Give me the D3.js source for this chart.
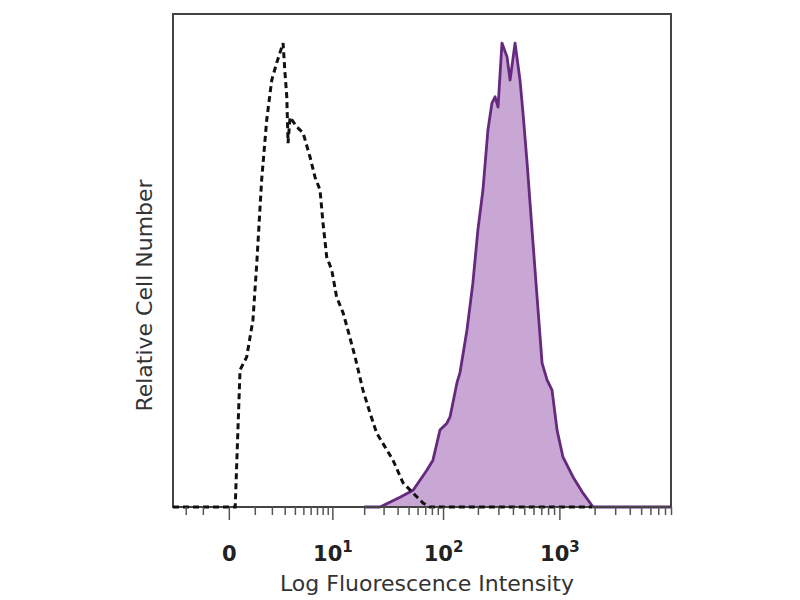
<!DOCTYPE html>
<html>
<head>
<meta charset="utf-8">
<script src="https://cdn.jsdelivr.net/npm/d3@7"></script>
<style>
  body { margin: 0; background: #fff; }
  svg { display: block; }
</style>
</head>
<body>
<svg id="chart" width="800" height="600"></svg>
<script>
// isotype control (dashed)
const controlX = [-3, 0.2, 0.37, 0.63, 0.91, 1.1, 1.36, 1.66, 1.99, 2.35, 2.86, 3.03, 3.19, 3.31, 3.5,
  4.21, 4.96, 5.91, 6.68, 7.52, 8.07, 8.79, 9.86, 11, 12.7, 14.1, 16.5, 19.5, 22.6, 26, 30.9,
  36.4, 44.7, 67, 77, 1900]
const controlY = [0, 0, 27.8, 30.4, 37.9, 49.5, 66.3, 78.5, 86.6, 90.1, 94.1, 88, 83.2, 73.8, 79.1,
  77.1, 75.9, 71, 66.9, 64.3, 57.6, 50.7, 48.1, 42.6, 39.4, 35.9, 30.4, 23.7, 19.1, 15, 12.2,
  9.5, 4.9, 0.8, 0, 0]

// stained sample (filled purple)
const stainX = [20, 27.9, 42, 54.8, 72.5, 81.7, 94, 108, 115, 132, 140, 161, 181, 200, 221, 244,
  264, 281, 298, 322, 356, 378, 417, 460, 488, 529, 583, 644, 711, 784, 865, 955, 1074, 1308,
  1593, 1940, 9000]
const stainY = [0, 0, 2, 3.4, 7.5, 9.5, 15.6, 17, 18.3, 25.2, 27.2, 35.9, 45.4, 56.2, 64.3, 76.5,
  81.9, 83.2, 81.1, 94.1, 91.3, 86.6, 94.1, 86.6, 79.9, 69.8, 56.2, 42.6, 29.2, 25.8, 23.7, 15.6,
  10.1, 6.1, 2.8, 0, 0]

const majorTicks = [0, 10, 100, 1000]
const majorLabels = ["0", "10|1", "10|2", "10|3"]
const minorTicks = [-2, -1, 1, 2, 3, 4, 5, 6, 7, 8, 9, 20, 30, 40, 50, 60, 70, 80, 90,
  200, 300, 400, 500, 600, 700, 800, 900, 2000, 3000, 4000, 5000, 6000, 7000, 8000, 9000]

const plotL = 173, plotR = 671, plotT = 14, plotB = 507

const svg = d3.select('#chart')

let x = d3.scaleSymlog().constant(1.5).domain([-3, 9000]).range([plotL, plotR])
let y = d3.scaleLinear().domain([0, 100]).range([plotB, plotT])

const stain = stainX.map((v, i) => ({x: v, y: stainY[i]}))
const control = controlX.map((v, i) => ({x: v, y: controlY[i]}))

// filled histogram
svg.append('path')
  .datum(stain)
  .attr('d', d3.area().x(d => x(d.x)).y0(y(0)).y1(d => y(d.y)))
  .attr('fill', '#c9a7d4')
  .attr('stroke', 'none')

svg.append('path')
  .datum(stain)
  .attr('d', d3.line().x(d => x(d.x)).y(d => y(d.y)))
  .attr('fill', 'none')
  .attr('stroke', '#652a7e')
  .attr('stroke-width', 2.8)
  .attr('stroke-linejoin', 'round')

// frame
svg.append('rect')
  .attr('x', plotL).attr('y', plotT)
  .attr('width', plotR - plotL).attr('height', plotB - plotT)
  .attr('fill', 'none')
  .attr('stroke', '#444')
  .attr('stroke-width', 2)

// dashed control
svg.append('path')
  .datum(control)
  .attr('d', d3.line().x(d => x(d.x)).y(d => y(d.y)))
  .attr('fill', 'none')
  .attr('stroke', '#111')
  .attr('stroke-width', 3)
  .attr('stroke-dasharray', '6,4')

// minor ticks
const minorAxis = svg.append('g')
  .attr('transform', `translate(0,${plotB})`)
  .call(d3.axisBottom(x).tickValues(minorTicks).tickSize(8).tickFormat(''))
minorAxis.select('.domain').remove()
minorAxis.selectAll('line').attr('stroke', '#555').attr('stroke-width', 1.5)

// major ticks + labels
const majorAxis = svg.append('g')
  .attr('transform', `translate(0,${plotB})`)
  .call(d3.axisBottom(x).tickValues(majorTicks).tickSize(13).tickPadding(26))
majorAxis.select('.domain').remove()
majorAxis.selectAll('line').attr('stroke', '#555').attr('stroke-width', 1.5)
majorAxis.selectAll('text')
  .attr('font-family', 'DejaVu Sans')
  .attr('font-weight', 'bold')
  .attr('font-size', 21)
  .attr('fill', '#222')
  .text('')
  .each(function(d, i) {
    const parts = majorLabels[i].split('|')
    const t = d3.select(this)
    t.append('tspan').text(parts[0])
    if (parts[1]) {
      t.append('tspan').attr('dy', -9).attr('font-size', 15).text(parts[1])
    }
  })

// axis titles
svg.append('text')
  .attr('x', (plotL + plotR) / 2 + 5)
  .attr('y', 591)
  .attr('text-anchor', 'middle')
  .attr('font-family', 'DejaVu Sans')
  .attr('font-size', 22)
  .attr('fill', '#333')
  .text('Log Fluorescence Intensity')

svg.append('text')
  .attr('transform', `translate(152,${(plotT + plotB) / 2 + 35}) rotate(-90)`)
  .attr('text-anchor', 'middle')
  .attr('font-family', 'DejaVu Sans')
  .attr('font-size', 22)
  .attr('fill', '#333')
  .text('Relative Cell Number')
</script>
</body>
</html>
